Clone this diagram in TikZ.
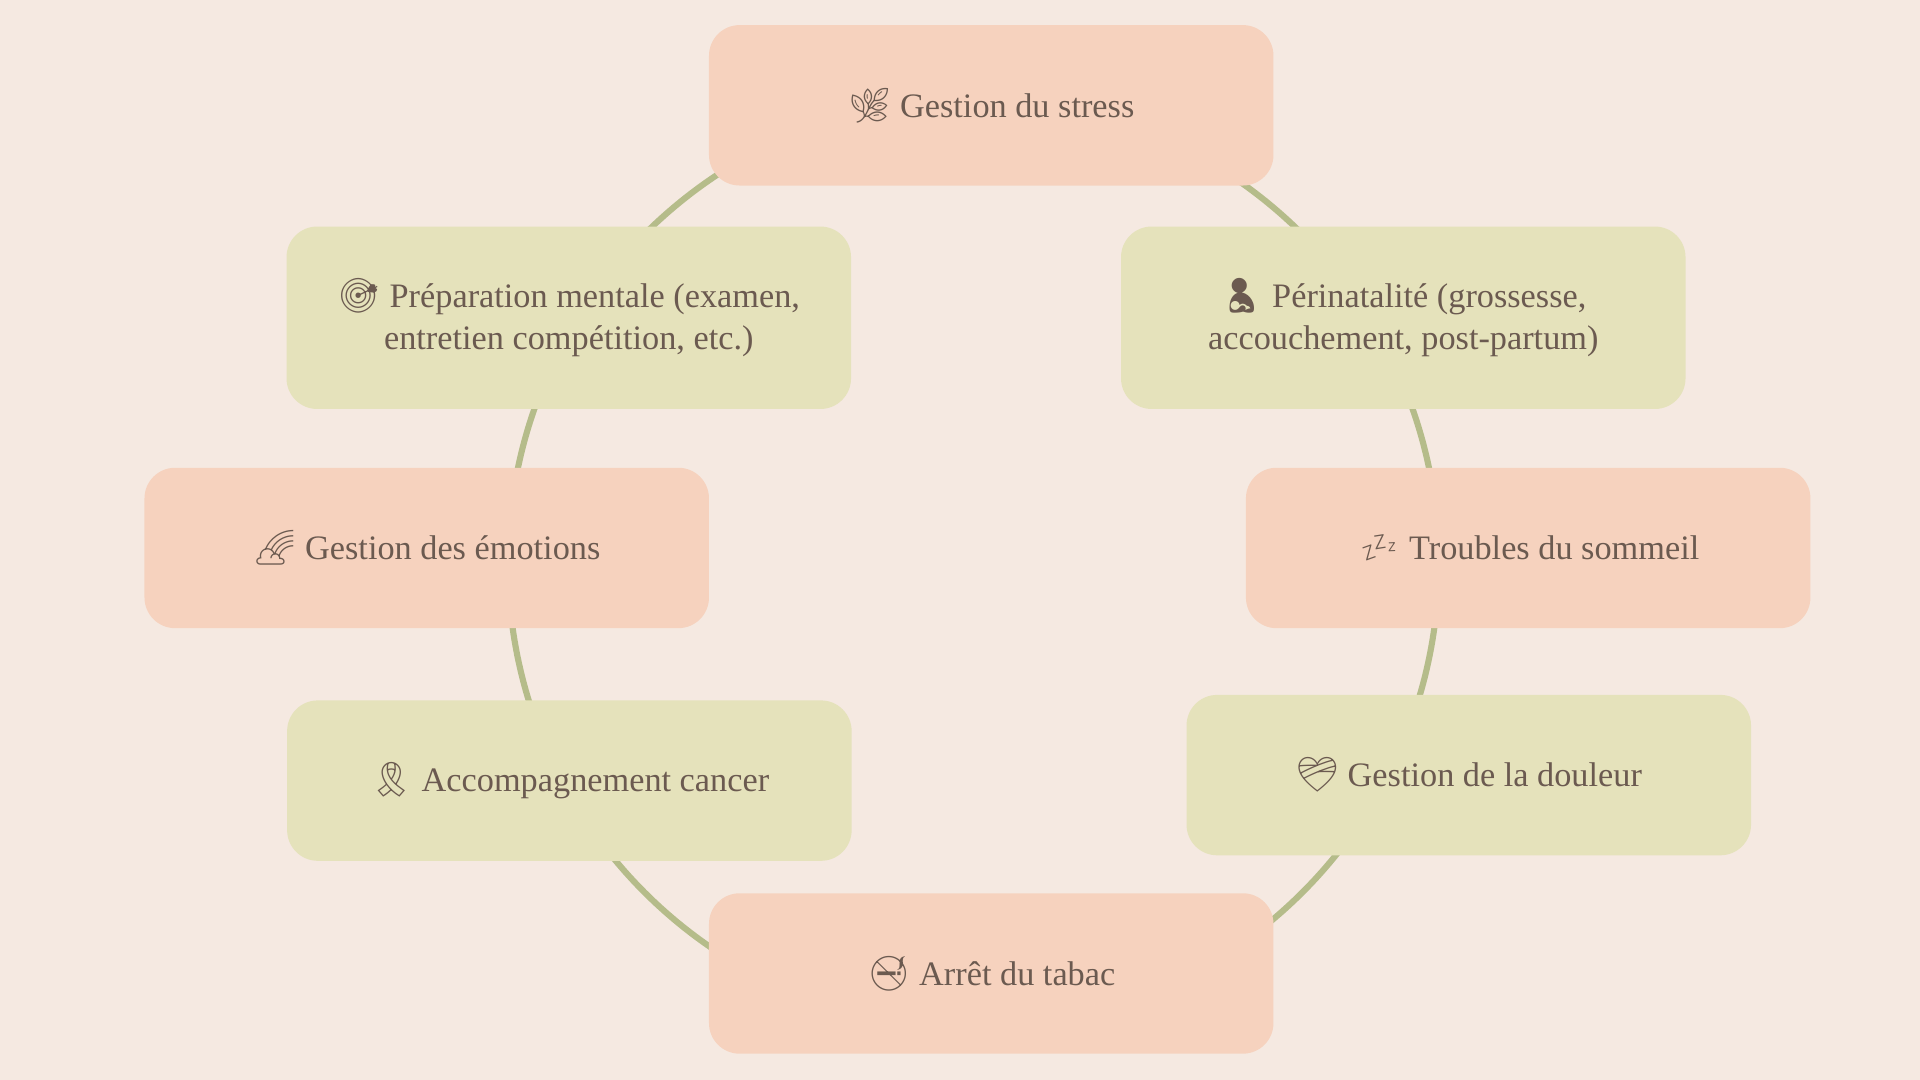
\documentclass[tikz,border=0pt]{standalone}
\usepackage{fontspec}
\setmainfont{Liberation Serif}
\newfontfamily\emo{Noto Emoji}
\definecolor{bg}{HTML}{F5E9E1}
\definecolor{sal}{HTML}{F6D2BE}
\definecolor{grn}{HTML}{E5E2BB}
\definecolor{txt}{HTML}{6B5A50}
\definecolor{ring}{HTML}{B5BC8A}
\tikzset{box/.style={rounded corners=25pt, minimum width=461pt, minimum height=131pt, align=center, text=txt, font=\fontsize{28}{34}\selectfont, inner sep=0pt},
s/.style={box, fill=sal}, g/.style={box, fill=grn}}
\begin{document}
\begin{tikzpicture}[x=1pt,y=-1pt]
\fill[bg] (0,0) rectangle (1568,882);
\useasboundingbox (0,0) rectangle (1568,882);
\draw[ring, line width=5pt] (795,460) circle (380pt);
\node[s] (a) at (809.5,86) {{\emo 🌿} Gestion du stress};
\node[g, minimum height=149pt] (b) at (464.5,259.5) {{\emo 🎯} Préparation mentale (examen,\\ entretien compétition, etc.)};
\node[g, minimum height=149pt] (c) at (1146,259.5) {{\emo 🤱} Périnatalité (grossesse,\\ accouchement, post-partum)};
\node[s] (d) at (348.5,447.5) {{\emo 🌈} Gestion des émotions};
\node[s] (e) at (1248,447.5) {{\emo 💤} Troubles du sommeil};
\node[g] (f) at (465,637.5) {{\emo 🎗} Accompagnement cancer};
\node[g] (h) at (1199.5,633) {{\emo ❤‍🩹} Gestion de la douleur};
\node[s] (i) at (809.5,795) {{\emo 🚭} Arrêt du tabac};
\end{tikzpicture}
\end{document}
